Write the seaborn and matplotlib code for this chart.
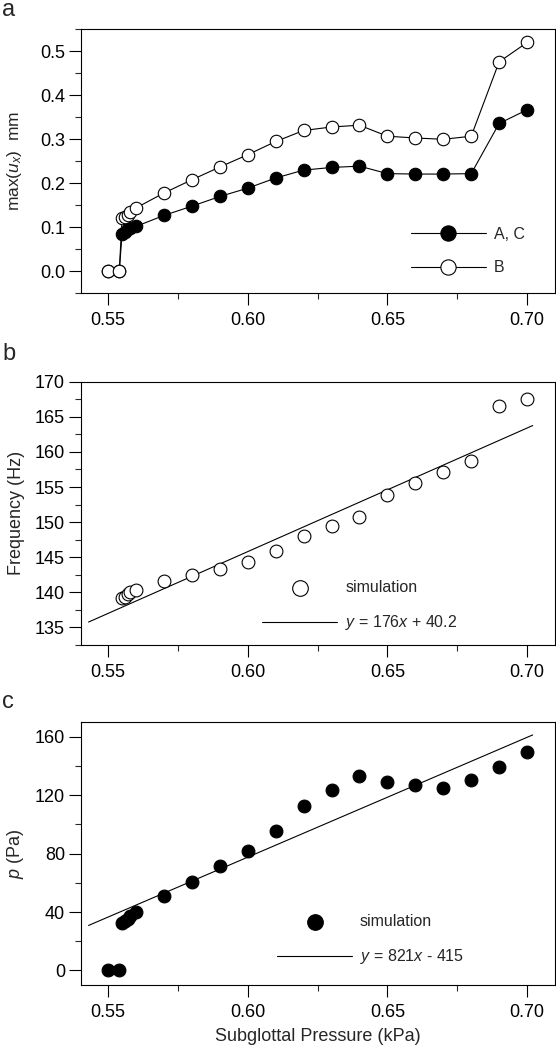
import matplotlib
matplotlib.use("Agg")
import matplotlib.pyplot as plt
from matplotlib.ticker import MultipleLocator, FormatStrFormatter
import numpy as np
import pandas as pd
import seaborn as sns

# ----------------------------------------------------
# Data
# ----------------------------------------------------
pressure = [0.55, 0.554, 0.555, 0.556, 0.557, 0.558, 0.56, 0.57, 0.58, 0.59, 0.60,
            0.61, 0.62, 0.63, 0.64, 0.65, 0.66, 0.67, 0.68, 0.69, 0.70]

# panel a: max(u_x) in mm
ux_ac = [0.0, 0.0, 0.085, 0.090, 0.095, 0.098, 0.102, 0.127, 0.148, 0.170, 0.189,
         0.212, 0.230, 0.236, 0.239, 0.222, 0.221, 0.221, 0.222, 0.336, 0.367]
ux_b = [0.0, 0.0, 0.120, 0.124, 0.129, 0.135, 0.144, 0.178, 0.208, 0.237, 0.265,
        0.295, 0.320, 0.328, 0.332, 0.307, 0.303, 0.300, 0.307, 0.476, 0.520]

# panel b: frequency (Hz), only where oscillation exists
freq_pressure = pressure[2:]
freq = [139.2, 139.4, 139.7, 140.0, 140.4, 141.6, 142.5, 143.3, 144.3, 145.9,
        148.0, 149.5, 150.8, 153.8, 155.6, 157.2, 158.7, 166.6, 167.5]
freq_fit = (176, 40.2)

# panel c: p (Pa)
p_amp = [0.0, 0.0, 32.5, 33.7, 35.3, 37.1, 39.8, 50.8, 60.5, 71.2, 81.7,
         95.4, 112.4, 123.4, 133.1, 129.0, 126.8, 125.2, 130.2, 139.3, 149.7]
p_fit = (821, -415)

fit_range = [0.543, 0.702]

# ----------------------------------------------------
# Style
# ----------------------------------------------------
sns.set_style("ticks")
plt.rcParams['font.family'] = ['Liberation Sans', 'DejaVu Sans']
plt.rcParams['mathtext.fontset'] = 'custom'
plt.rcParams['mathtext.rm'] = 'Liberation Sans'
plt.rcParams['mathtext.it'] = 'Liberation Sans:italic'
plt.rcParams['axes.linewidth'] = 0.8
plt.rcParams['axes.edgecolor'] = 'black'

W, H = 556, 1050
fig = plt.figure(figsize=(W / 100, H / 100), dpi=100)


def add_axes(top_px, bottom_px, left_px=81, right_px=555):
    return fig.add_axes([left_px / W, 1 - bottom_px / H,
                         (right_px - left_px) / W, (bottom_px - top_px) / H])


def style_axes(ax, ylim, ymajor, yminor, yfmt):
    ax.set_xlim(0.5403, 0.7100)
    ax.set_ylim(*ylim)
    ax.xaxis.set_major_locator(MultipleLocator(0.05))
    ax.xaxis.set_minor_locator(MultipleLocator(0.025))
    ax.xaxis.set_major_formatter(FormatStrFormatter('%.2f'))
    ax.yaxis.set_major_locator(MultipleLocator(ymajor))
    ax.yaxis.set_minor_locator(MultipleLocator(yminor))
    ax.yaxis.set_major_formatter(FormatStrFormatter(yfmt))
    ax.tick_params(which='major', direction='out', length=8.5, width=0.8,
                   labelsize=13, colors='black')
    ax.tick_params(axis='x', which='major', pad=5)
    ax.tick_params(axis='y', which='major', pad=3)
    ax.tick_params(which='minor', direction='out', length=4.5, width=0.8)
    for s in ax.spines.values():
        s.set_visible(True)
        s.set_color('black')
        s.set_linewidth(0.8)
    ax.set_xlabel('')


legend_kw = dict(frameon=False, borderpad=0, borderaxespad=0, handlelength=4.7,
                 handletextpad=0.5, labelspacing=1.15, fontsize=11.5,
                 loc='center left', markerscale=1.22)

# ----------------------------------------------------
# Panel a
# ----------------------------------------------------
ax_a = add_axes(29.3, 293.3)
sns.lineplot(x=pressure, y=ux_ac, ax=ax_a, estimator=None, color='black',
             linewidth=0.8, marker='o', markersize=9, markerfacecolor='black',
             markeredgecolor='black', markeredgewidth=0.8, label='A, C')
sns.lineplot(x=pressure, y=ux_b, ax=ax_a, estimator=None, color='black',
             linewidth=0.8, marker='o', markersize=9, markerfacecolor='white',
             markeredgecolor='black', markeredgewidth=0.8, label='B')
style_axes(ax_a, (-0.05, 0.55), 0.1, 0.05, '%.1f')
ax_a.set_ylabel(r'max($u_x$)  mm', fontsize=12.5)
ax_a.yaxis.set_label_coords(-0.12, 0.5)
h, l = ax_a.get_legend_handles_labels()
ax_a.legend(h, l, bbox_to_anchor=(0.696, 0.160), **legend_kw)

# ----------------------------------------------------
# Panel b
# ----------------------------------------------------
ax_b = add_axes(381.7, 645)
sns.scatterplot(x=freq_pressure, y=freq, ax=ax_b, s=85, facecolor='white',
                edgecolor='black', linewidth=0.8, label='simulation', zorder=3)
fx = np.array(fit_range)
sns.lineplot(x=fx, y=freq_fit[0] * fx + freq_fit[1], ax=ax_b, color='black',
             linewidth=0.8, label=r'$y$ = 176$x$ + 40.2')
style_axes(ax_b, (132.5, 170), 5, 2.5, '%d')
ax_b.set_ylabel('Frequency (Hz)', fontsize=13)
ax_b.yaxis.set_label_coords(-0.118, 0.5)
h, l = ax_b.get_legend_handles_labels()
ax_b.legend(h, l, bbox_to_anchor=(0.382, 0.148), **legend_kw)

# ----------------------------------------------------
# Panel c
# ----------------------------------------------------
ax_c = add_axes(722.3, 985)
sns.scatterplot(x=pressure, y=p_amp, ax=ax_c, s=85, facecolor='black',
                edgecolor='black', linewidth=0.8, label='simulation', zorder=3)
sns.lineplot(x=fx, y=p_fit[0] * fx + p_fit[1], ax=ax_c, color='black',
             linewidth=0.8, label=r'$y$ = 821$x$ - 415')
style_axes(ax_c, (-10, 170), 40, 20, '%d')
ax_c.set_ylabel(r'$p$ (Pa)', fontsize=13)
ax_c.yaxis.set_label_coords(-0.115, 0.5)
ax_c.set_xlabel('Subglottal Pressure (kPa)', fontsize=13, labelpad=5)
h, l = ax_c.get_legend_handles_labels()
ax_c.legend(h, l, bbox_to_anchor=(0.4135, 0.171), **legend_kw)

# panel letters
for letter, base_px in [('a', 16), ('b', 360), ('c', 708)]:
    fig.text(2 / W, 1 - base_px / H, letter, fontsize=17, va='baseline', ha='left')

fig.savefig('out.png', dpi=100)
